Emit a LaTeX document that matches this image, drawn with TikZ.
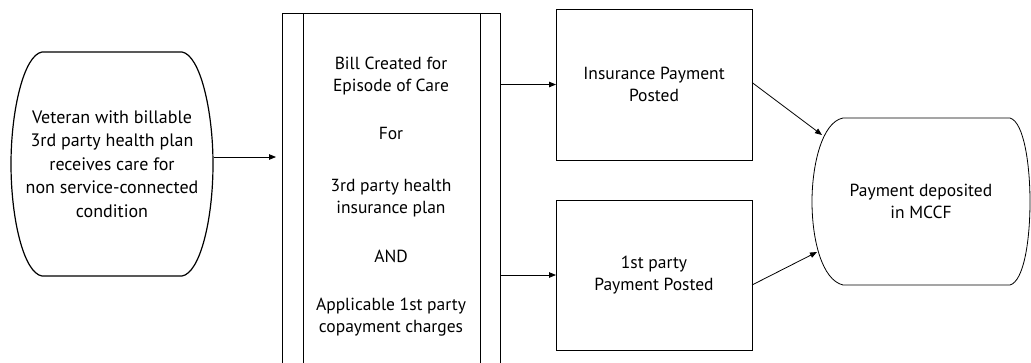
\documentclass[tikz,border=0pt]{standalone}
\usepackage{fontspec}
\setmainfont{PT Sans}
\usetikzlibrary{arrows.meta,calc}
\begin{document}
\begin{tikzpicture}[x=1pt,y=-1pt,
  txt/.style={inner sep=0pt,outer sep=0pt,align=center,font=\fontsize{17.5}{22}\selectfont},
  box/.style={txt,draw,line width=0.9pt},
  arr/.style={line width=0.8pt,-{Triangle[length=7pt,width=5.5pt]}},
  outline/.style={line width=1.2pt,line join=round}]
\useasboundingbox (0,0) rectangle (1031,362);
\clip (0,0) rectangle (1031,362);
% left terminal
\node[txt,minimum width=203pt,minimum height=224pt,font=\fontsize{18}{23.5}\selectfont] (vet) at (112,164)
  {Veteran with billable\\3rd party health plan\\receives care for\\non service-connected\\condition};
\draw[outline] (42,52) -- (182,52) .. controls (200,55) and (213,110) .. (213,164)
  .. controls (213,220) and (200,273) .. (182,276) -- (42,276)
  .. controls (24,273) and (11,220) .. (11,164) .. controls (11,110) and (24,55) .. (42,52) -- cycle;
% middle box
\node[box,minimum width=218pt,minimum height=367pt,font=\fontsize{17.5}{21.5}\selectfont] (bill) at (391,196.5)
  {Bill Created for\\Episode of Care\\[27pt]For\\[30.5pt]3rd party health\\insurance plan\\[28pt]AND\\[26.5pt]Applicable 1st party\\copayment charges};
\draw[line width=0.9pt] ($(bill.north west)+(21,0)$) -- ($(bill.south west)+(21,0)$);
\draw[line width=0.9pt] ($(bill.north east)+(-20,0)$) -- ($(bill.south east)+(-20,0)$);
% right boxes
\node[box,minimum width=196pt,minimum height=151pt] (ins) at (654,84.5) {Insurance Payment\\Posted};
\node[box,minimum width=196pt,minimum height=150pt] (first) at (654,275) {1st party\\Payment Posted};
% right terminal
\node[txt,minimum width=218pt,minimum height=167pt] (mccf) at (921,201.5) {Payment deposited\\in MCCF};
\draw[line width=0.8pt,line join=round] (843,118) -- (1010,118) .. controls (1024,122) and (1030,165) .. (1030,201.5)
  .. controls (1030,240) and (1024,281) .. (1010,285) -- (843,285)
  .. controls (822,280) and (812,240) .. (812,201.5) .. controls (812,165) and (822,122) .. (843,118) -- cycle;
% connectors
\draw[arr] ($(vet.east)+(0,-7)$) -- ($(vet.east -| bill.west)+(-6,-7)$);
\draw[arr] (bill.east |- ins.west) -- (ins.west);
\draw[arr] (bill.east |- first.west) -- (first.west);
\draw[arr] ($(ins.east)+(0,-2)$) -- ($(mccf.north west)+(10,17)$);
\draw[arr] ($(first.east)+(0,10)$) -- ($(mccf.south west)+(5,-33)$);
\end{tikzpicture}
\end{document}
